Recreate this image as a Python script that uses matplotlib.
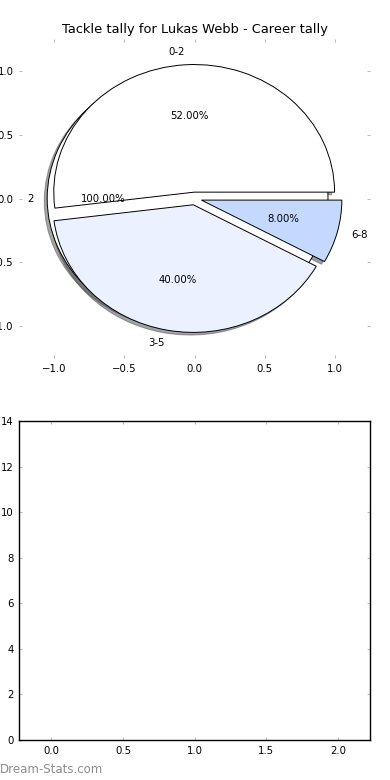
import matplotlib
matplotlib.use("Agg")
import matplotlib.pyplot as plt

# tackle tally data
bands = ['0-2', '3-5', '6-8']
shares = [52, 40, 8]
band_colors = ['#ffffff', '#ebf1fe', '#c5d9fe']
total_label = ['2']
total_share = [100]

tick_vals = [-1.0, -0.5, 0.0, 0.5, 1.0]
bar_yticks = [0, 2, 4, 6, 8, 10, 12, 14]
bar_xticks = [0.0, 0.5, 1.0, 1.5, 2.0]

plt.rcParams['font.size'] = 7.3
plt.rcParams['xtick.direction'] = 'in'
plt.rcParams['ytick.direction'] = 'in'
plt.rcParams['xtick.top'] = True
plt.rcParams['ytick.right'] = True
plt.rcParams['xtick.color'] = '#bbbbbb'
plt.rcParams['ytick.color'] = '#bbbbbb'
plt.rcParams['xtick.labelcolor'] = 'black'
plt.rcParams['ytick.labelcolor'] = 'black'
plt.rcParams['xtick.major.size'] = 2.5
plt.rcParams['ytick.major.size'] = 2.5
plt.rcParams['xtick.major.pad'] = 4
plt.rcParams['ytick.major.pad'] = 4

fig = plt.figure(figsize=(3.9, 7.8), dpi=100)
ax1 = fig.add_axes([0.049, 0.541, 0.9, 0.409])
ax2 = fig.add_axes([0.049, 0.0513, 0.9, 0.4087])

wp = dict(edgecolor='black', linewidth=0.7)
shd = {'ox': -0.015, 'oy': -0.015}
ax1.pie(total_share, labels=total_label, colors=['white'], explode=[0.05],
        autopct='%1.2f%%', shadow=shd, startangle=0, wedgeprops=wp)
ax1.pie(shares, labels=bands, colors=band_colors, explode=[0.05] * 3,
        autopct='%1.2f%%', shadow=shd, startangle=0, wedgeprops=wp)
ax1.set_aspect('auto')
ax1.set_xlim(-1.25, 1.25)
ax1.set_ylim(-1.25, 1.25)
ax1.set_xticks(tick_vals)
ax1.set_yticks(tick_vals)
ax1.set_title('Tackle tally for Lukas Webb - Career tally', fontsize=9.4, pad=4)

ax2.set_xlim(-0.226, 2.226)
ax2.set_ylim(0, 14)
ax2.set_xticks(bar_xticks)
ax2.set_yticks(bar_yticks)
for s in ax2.spines.values():
    s.set_linewidth(1.0)

fig.text(0.0, 0.013, 'Dream-Stats.com', color='#8c8c8c', fontsize=8.5,
         ha='left', va='center')

fig.savefig('out.png', dpi=100)
